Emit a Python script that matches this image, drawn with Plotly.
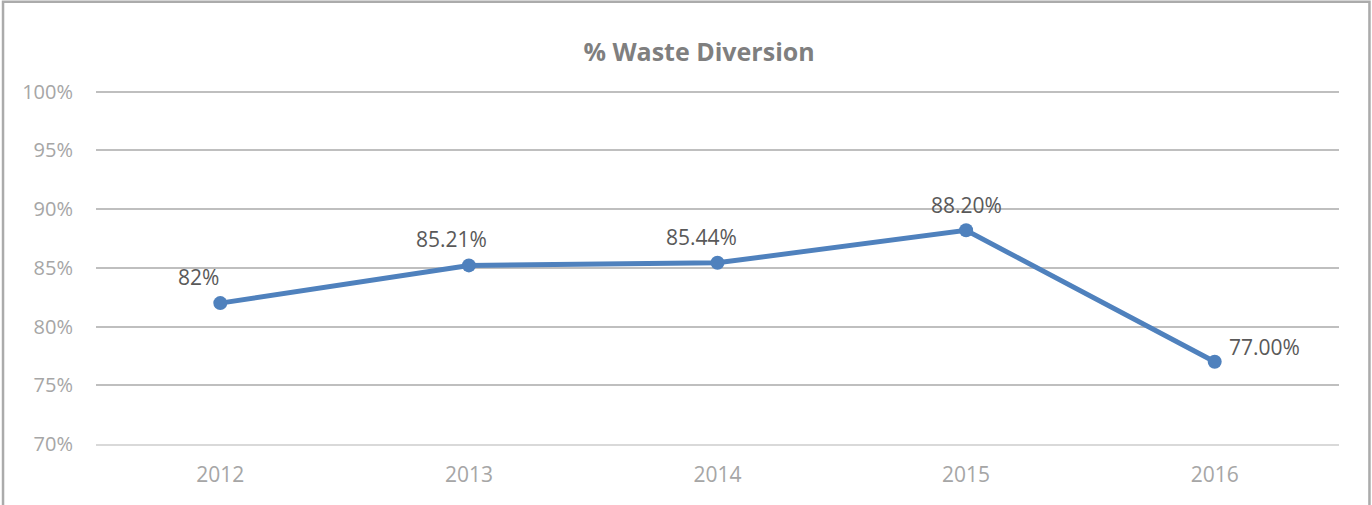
import plotly.graph_objects as go

YEARS = ["2012", "2013", "2014", "2015", "2016"]
DIVERSION = [82.0, 85.21, 85.44, 88.20, 77.00]
LABELS = ["82%", "85.21%", "85.44%", "88.20%", "77.00%"]
Y_TICKS = [70, 75, 80, 85, 90, 95, 100]
Y_TICK_TEXT = ["70%", "75%", "80%", "85%", "90%", "95%", "100%"]

FONT = "'Open Sans', sans-serif"
BLUE = "#4F81BD"
# pixel nudges of the data labels, as placed in the original chart
LABEL_DX = [-22, -17, -16, 0, 12]
LABEL_DY = [10, 10, 10, 9, 15]

fig = go.Figure(go.Scatter(
    x=YEARS,
    y=DIVERSION,
    mode="lines+markers",
    line=dict(color=BLUE, width=5),
    marker=dict(size=14, color=BLUE),
    hoverinfo="skip",
))

# category axis -> annotation x is the category index
for i, (v, lab) in enumerate(zip(DIVERSION, LABELS)):
    last = i == len(DIVERSION) - 1
    fig.add_annotation(
        x=i, y=v, text=lab, showarrow=False,
        xanchor="left" if last else "center",
        yanchor="middle" if last else "bottom",
        xshift=LABEL_DX[i], yshift=LABEL_DY[i],
        font=dict(family=FONT, size=21, color="#595959"),
    )

fig.update_layout(
    width=1372, height=505,
    margin=dict(l=96, r=33, t=90, b=61),
    paper_bgcolor="white", plot_bgcolor="white",
    showlegend=False,
    title=dict(
        text="<b>% Waste Diversion</b>",
        xref="container", x=0.5095, xanchor="center",
        yref="container", y=0.897, yanchor="middle",
        font=dict(family=FONT, size=25, color="#7F7F7F"),
    ),
    xaxis=dict(
        type="category", range=[-0.5, 4.5],
        showgrid=False, showline=True, linecolor="#D9D9D9", linewidth=1.5,
        ticks="", tickfont=dict(family=FONT, size=21, color="#A6A6A6"),
        ticklabelstandoff=11,
    ),
    yaxis=dict(
        range=[70, 100.15], tickmode="array", tickvals=Y_TICKS, ticktext=Y_TICK_TEXT,
        showgrid=True, gridcolor="#BFBFBF", gridwidth=1.5,
        zeroline=False, showline=False, ticks="",
        tickfont=dict(family=FONT, size=20, color="#A6A6A6"),
        ticklabelstandoff=22,
    ),
    shapes=[dict(
        type="rect", xref="paper", yref="paper",
        x0=-0.0748, x1=1.0245, y0=-0.6, y1=1.249,
        line=dict(color="#ABABAB", width=2.5),
        fillcolor="rgba(0,0,0,0)", layer="above",
    )],
)

fig.write_html("out.html", config={"displayModeBar": False},
               post_script="document.body.style.margin='0';")
